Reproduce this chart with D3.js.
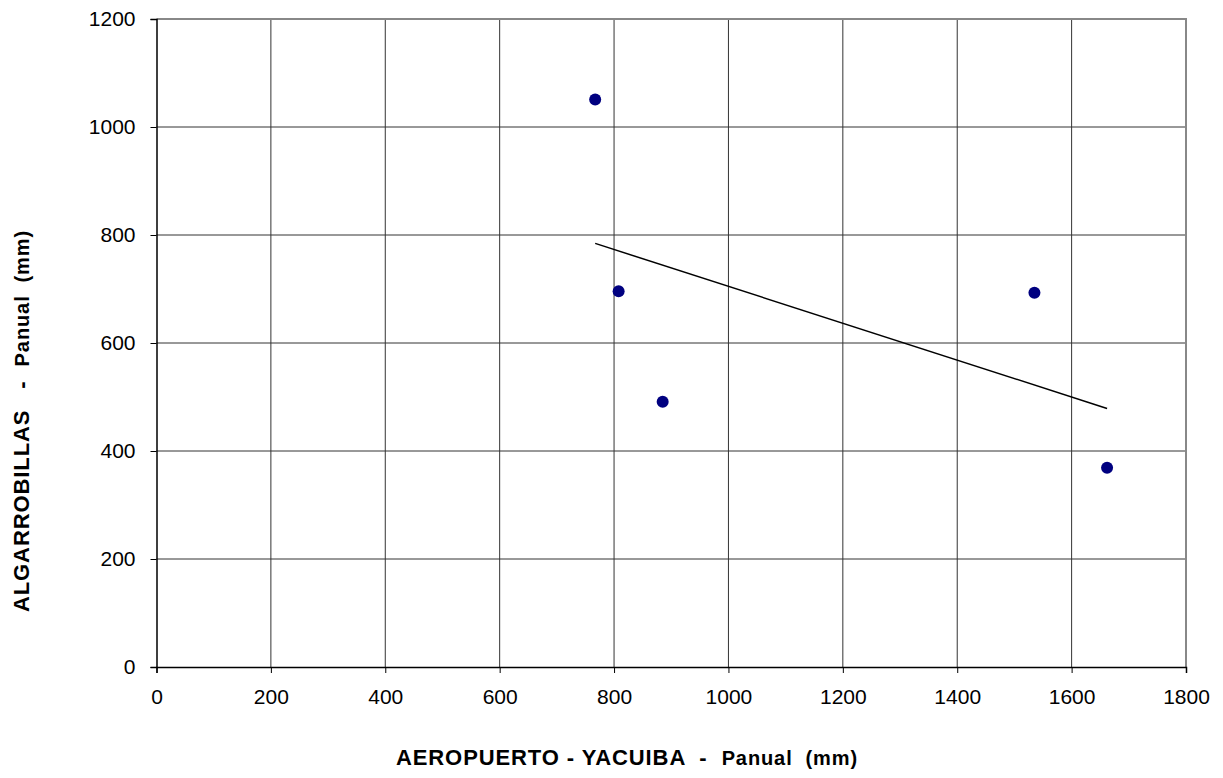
<!DOCTYPE html>
<html>
<head>
<meta charset="utf-8">
<script src="https://cdn.jsdelivr.net/npm/d3@7/dist/d3.min.js"></script>
<style>
  html, body { margin: 0; padding: 0; background: #fff; }
  svg { display: block; font-family: "Liberation Sans", Arial, sans-serif; }
</style>
</head>
<body>
<svg id="chart" width="1223" height="778"></svg>
<script>
// Annual precipitation pairs (mm): Aeropuerto Yacuiba vs Algarrobillas
const yacuiba = [767, 808, 885, 1535, 1662];
const algarrobillas = [1051, 696, 491, 693, 369];
const xTicks = [0, 200, 400, 600, 800, 1000, 1200, 1400, 1600, 1800];
const yTicks = [0, 200, 400, 600, 800, 1000, 1200];

const svg = d3.select("#chart");
const m = { left: 156.5, right: 1186, top: 19, bottom: 667 };

const x = d3.scaleLinear().domain([0, 1800]).range([m.left, m.right]);
const y = d3.scaleLinear().domain([0, 1200]).range([m.bottom, m.top]);

// grid
const grid = svg.append("g").attr("stroke", "#333").attr("stroke-width", 1);
grid.selectAll("line.v").data(xTicks.slice(1, -1)).enter().append("line")
  .attr("x1", d => x(d)).attr("x2", d => x(d)).attr("y1", m.top).attr("y2", m.bottom);
grid.selectAll("line.h").data(yTicks.slice(1, -1)).enter().append("line")
  .attr("x1", m.left).attr("x2", m.right).attr("y1", d => y(d)).attr("y2", d => y(d));

// top and right frame
svg.append("path")
  .attr("d", `M${m.left},${m.top}H${m.right}V${m.bottom}`)
  .attr("fill", "none").attr("stroke", "#888").attr("stroke-width", 2);

// axes
const xAxis = d3.axisBottom(x).tickValues(xTicks).tickSize(6).tickPadding(16).tickFormat(d3.format("d"));
const yAxis = d3.axisLeft(y).tickValues(yTicks).tickSize(6).tickPadding(15).tickFormat(d3.format("d"));

const gx = svg.append("g").attr("transform", `translate(0,${m.bottom})`).call(xAxis);
const gy = svg.append("g").attr("transform", `translate(${m.left},0)`).call(yAxis);
[gx, gy].forEach(g => {
  g.select(".domain").attr("stroke", "#000").attr("stroke-width", 1.5);
  g.selectAll(".tick line").attr("stroke", "#000");
  g.selectAll(".tick text").attr("fill", "#000").attr("font-size", 21)
    .attr("font-family", "Liberation Sans, Arial, sans-serif");
});

// least-squares trend line over the data range
const mx = d3.mean(yacuiba), my = d3.mean(algarrobillas);
const sxy = d3.sum(yacuiba, (v, i) => (v - mx) * (algarrobillas[i] - my));
const sxx = d3.sum(yacuiba, v => (v - mx) ** 2);
const slope = sxy / sxx, intercept = my - slope * mx;
const xr = d3.extent(yacuiba);
svg.append("line")
  .attr("x1", x(xr[0])).attr("y1", y(intercept + slope * xr[0]))
  .attr("x2", x(xr[1])).attr("y2", y(intercept + slope * xr[1]))
  .attr("stroke", "#000").attr("stroke-width", 1.5);

// points
svg.append("g").selectAll("circle").data(yacuiba).enter().append("circle")
  .attr("cx", d => x(d)).attr("cy", (d, i) => y(algarrobillas[i]))
  .attr("r", 6).attr("fill", "#000080");

// axis titles
const xt = svg.append("text").attr("x", 627).attr("y", 765).attr("text-anchor", "middle")
  .attr("font-weight", "bold").attr("font-size", 22).attr("letter-spacing", 0.9)
  .attr("xml:space", "preserve");
xt.append("tspan").text("AEROPUERTO - YACUIBA  -  ");
xt.append("tspan").attr("font-size", 20).text("Panual  (mm)");

const yt = svg.append("text").attr("transform", "translate(29,421) rotate(-90)")
  .attr("text-anchor", "middle").attr("font-weight", "bold").attr("font-size", 22)
  .attr("letter-spacing", 0.9).attr("xml:space", "preserve");
yt.append("tspan").text("ALGARROBILLAS   -  ");
yt.append("tspan").attr("font-size", 20).text("Panual  (mm)");
</script>
</body>
</html>
